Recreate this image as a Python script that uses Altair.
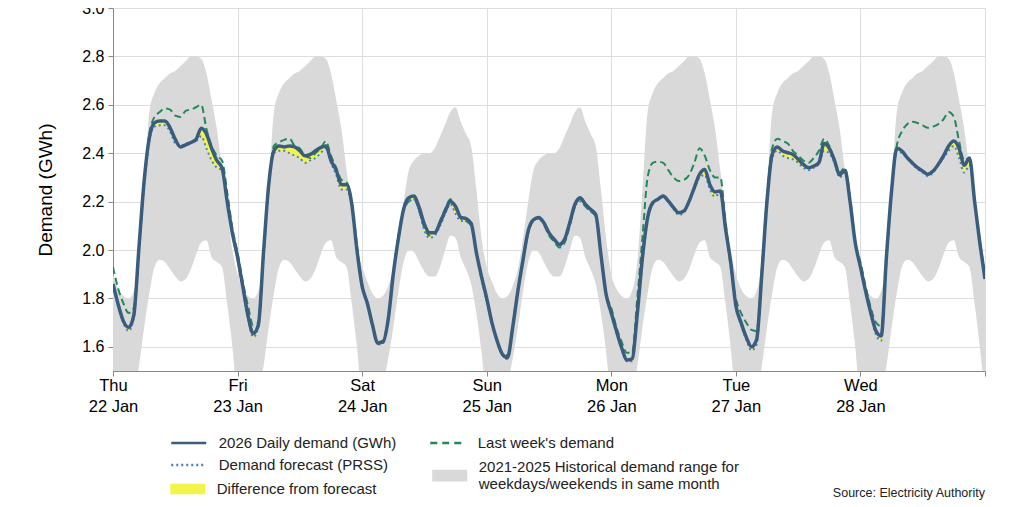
import json
import altair as alt
import pandas as pd

# ---------------- data ----------------
days = ["Thu", "Fri", "Sat", "Sun", "Mon", "Tue", "Wed"]
dates = ["22 Jan", "23 Jan", "24 Jan", "25 Jan", "26 Jan", "27 Jan", "28 Jan"]
day_type = ["weekday", "weekday", "weekend", "weekend", "weekday", "weekday", "weekday"]

# hourly 2026 demand (GWh), Thu 00:00 ... Wed 23:00, plus Thu 29 00:00
demand = [
    1.86, 1.775, 1.706, 1.68, 1.73, 2.01, 2.285, 2.464, 2.526, 2.533, 2.533, 2.505, 2.457, 2.426, 2.434, 2.444, 2.457, 2.503, 2.48, 2.42, 2.37, 2.34, 2.20, 2.07,
    1.97, 1.85, 1.73, 1.655, 1.69, 1.99, 2.27, 2.41, 2.43, 2.426, 2.43, 2.426, 2.41, 2.389, 2.395, 2.41, 2.423, 2.43, 2.37, 2.33, 2.27, 2.27, 2.19, 2.00,
    1.85, 1.78, 1.69, 1.615, 1.62, 1.71, 1.90, 2.05, 2.17, 2.216, 2.223, 2.175, 2.106, 2.071, 2.071, 2.113, 2.161, 2.20, 2.18, 2.135, 2.13, 2.11, 1.99, 1.89,
    1.80, 1.70, 1.625, 1.57, 1.555, 1.68, 1.83, 1.96, 2.08, 2.125, 2.134, 2.113, 2.071, 2.044, 2.023, 2.044, 2.113, 2.189, 2.216, 2.189, 2.168, 2.147, 1.982, 1.817,
    1.74, 1.665, 1.596, 1.545, 1.55, 1.734, 1.968, 2.134, 2.196, 2.21, 2.223, 2.202, 2.175, 2.154, 2.161, 2.202, 2.258, 2.313, 2.333, 2.27, 2.24, 2.244, 2.09, 1.95,
    1.77, 1.70, 1.64, 1.60, 1.63, 1.90, 2.202, 2.395, 2.426, 2.409, 2.402, 2.395, 2.375, 2.354, 2.34, 2.347, 2.361, 2.44, 2.42, 2.37, 2.31, 2.33, 2.20, 2.03,
    1.93, 1.83, 1.74, 1.665, 1.645, 1.968, 2.244, 2.42, 2.409, 2.382, 2.36, 2.34, 2.326, 2.313, 2.326, 2.354, 2.389, 2.43, 2.45, 2.42, 2.35, 2.38, 2.20, 2.03,
    1.88,
]

forecast = [
    1.85, 1.77, 1.70, 1.665, 1.72, 2.00, 2.27, 2.45, 2.51, 2.515, 2.515, 2.49, 2.44, 2.43, 2.44, 2.445, 2.45, 2.47, 2.42, 2.37, 2.34, 2.33, 2.20, 2.07,
    1.96, 1.84, 1.72, 1.64, 1.68, 1.98, 2.26, 2.40, 2.41, 2.41, 2.40, 2.39, 2.38, 2.36, 2.37, 2.38, 2.40, 2.42, 2.36, 2.31, 2.25, 2.25, 2.18, 2.00,
    1.85, 1.78, 1.69, 1.61, 1.615, 1.71, 1.90, 2.05, 2.16, 2.20, 2.21, 2.16, 2.08, 2.05, 2.06, 2.10, 2.15, 2.19, 2.15, 2.12, 2.12, 2.10, 1.99, 1.89,
    1.80, 1.70, 1.62, 1.565, 1.55, 1.68, 1.83, 1.96, 2.08, 2.12, 2.13, 2.11, 2.07, 2.04, 2.015, 2.04, 2.11, 2.18, 2.20, 2.18, 2.16, 2.14, 1.98, 1.815,
    1.74, 1.66, 1.59, 1.54, 1.54, 1.73, 1.96, 2.13, 2.19, 2.21, 2.22, 2.20, 2.17, 2.145, 2.155, 2.20, 2.25, 2.30, 2.31, 2.25, 2.22, 2.24, 2.09, 1.95,
    1.77, 1.69, 1.63, 1.585, 1.61, 1.89, 2.20, 2.38, 2.41, 2.39, 2.38, 2.375, 2.36, 2.34, 2.33, 2.34, 2.355, 2.41, 2.40, 2.36, 2.30, 2.32, 2.20, 2.03,
    1.93, 1.83, 1.73, 1.65, 1.625, 1.96, 2.24, 2.41, 2.40, 2.38, 2.355, 2.335, 2.32, 2.305, 2.32, 2.35, 2.38, 2.41, 2.43, 2.38, 2.32, 2.35, 2.20, 2.03,
    1.88,
]

last_week = [
    1.93, 1.84, 1.78, 1.74, 1.76, 2.00, 2.28, 2.48, 2.55, 2.57, 2.585, 2.58, 2.555, 2.55, 2.575, 2.58, 2.59, 2.60, 2.50, 2.43, 2.39, 2.37, 2.24, 2.09,
    1.99, 1.87, 1.77, 1.69, 1.70, 1.98, 2.25, 2.43, 2.445, 2.455, 2.46, 2.43, 2.42, 2.39, 2.38, 2.40, 2.42, 2.45, 2.39, 2.34, 2.29, 2.28, 2.20, 2.02,
    1.86, 1.78, 1.69, 1.62, 1.625, 1.72, 1.91, 2.06, 2.17, 2.20, 2.21, 2.16, 2.09, 2.06, 2.07, 2.12, 2.17, 2.21, 2.18, 2.13, 2.12, 2.10, 1.99, 1.88,
    1.79, 1.70, 1.63, 1.575, 1.565, 1.69, 1.84, 1.96, 2.07, 2.12, 2.13, 2.105, 2.06, 2.035, 2.01, 2.03, 2.10, 2.18, 2.21, 2.18, 2.16, 2.14, 1.98, 1.82,
    1.76, 1.68, 1.62, 1.575, 1.575, 1.80, 2.05, 2.30, 2.36, 2.365, 2.36, 2.33, 2.30, 2.285, 2.29, 2.31, 2.36, 2.42, 2.39, 2.33, 2.30, 2.30, 2.12, 1.93,
    1.80, 1.74, 1.70, 1.67, 1.665, 1.92, 2.22, 2.42, 2.46, 2.45, 2.44, 2.41, 2.39, 2.37, 2.36, 2.38, 2.41, 2.46, 2.43, 2.37, 2.32, 2.34, 2.22, 2.03,
    1.95, 1.85, 1.76, 1.70, 1.685, 1.95, 2.24, 2.43, 2.49, 2.52, 2.53, 2.525, 2.515, 2.505, 2.51, 2.52, 2.54, 2.57, 2.55, 2.45, 2.37, 2.38, 2.20, 2.04,
    1.90,
]

# 2021-2025 historical range, hourly profile (00:00 ... 23:00)
hist_low = {
    "weekday": [1.40, 1.40, 1.40, 1.40, 1.42, 1.52, 1.68, 1.82, 1.93, 1.96, 1.95, 1.92, 1.89, 1.87, 1.88, 1.92, 1.98, 2.03, 2.04, 1.97, 1.95, 1.93, 1.78, 1.60],
    "weekend": [1.40, 1.40, 1.40, 1.40, 1.45, 1.55, 1.68, 1.83, 1.95, 2.00, 1.99, 1.95, 1.91, 1.89, 1.89, 1.93, 2.00, 2.06, 2.05, 1.97, 1.92, 1.86, 1.74, 1.58],
}
hist_high = {
    "weekday": [1.90, 1.84, 1.81, 1.80, 1.83, 1.95, 2.25, 2.57, 2.65, 2.69, 2.71, 2.73, 2.74, 2.76, 2.78, 2.80, 2.80, 2.79, 2.73, 2.62, 2.50, 2.33, 2.16, 2.00],
    "weekend": [1.93, 1.87, 1.82, 1.80, 1.81, 1.85, 1.92, 2.05, 2.20, 2.33, 2.37, 2.39, 2.40, 2.40, 2.42, 2.47, 2.52, 2.57, 2.59, 2.53, 2.48, 2.43, 2.25, 2.05],
}

y_ticks = [1.6, 1.8, 2.0, 2.2, 2.4, 2.6, 2.8, 3.0]

L_DEMAND = "2026 Daily demand (GWh)"
L_LAST = "Last week's demand"
L_FC = "Demand forecast (PRSS)"
L_HIST = "2021-2025 Historical demand range for"
L_HIST2 = " weekdays/weekends in same month"
L_DIFF = "Difference from forecast"
SOURCE = "Source: Electricity Authority"
line_labels = [L_DEMAND, L_FC, L_LAST]

# ---------------- styles ----------------
C_DEMAND = "#3a5d7e"
C_LAST = "#23885a"
C_FC = "#4a7fc6"
C_HIST = "#d9d9d9"
C_DIFF = "#f3f34a"
FONT = "Liberation Sans"
SYM_SIZE = 306.25  # sqrt = 17.5 -> shapes below span 35 px
LINE_SYMBOL = "M-2,0L2,0"
RECT_SYMBOL = "M-2,-0.6L2,-0.6L2,0.6L-2,0.6Z"
RECT_SYMBOL_LOW = "M-2,0.3L2,0.3L2,1.67L-2,1.67Z"

lo, hi = [], []
for t in day_type:
    lo += hist_low[t]
    hi += hist_high[t]
lo.append(hist_low["weekday"][0])
hi.append(hist_high["weekday"][0])

df = pd.DataFrame({
    "hour": list(range(len(demand))),
    "demand": demand,
    "forecast": forecast,
    "last_week": last_week,
    "hist_lo": lo,
    "hist_hi": hi,
})
leg_df = pd.DataFrame({"f_line": line_labels,
                       "f_hist": [L_HIST] * 3, "f_diff": [L_DIFF] * 3})

n_hours = 24 * len(days)
x_ticks = list(range(0, n_hours + 1, 24))
label_expr = (
    f"datum.value < {n_hours} ? "
    f"[{json.dumps(days)}[round(datum.value / 24)], {json.dumps(dates)}[round(datum.value / 24)]] : ''"
)

xscale = alt.Scale(domain=[0, n_hours], nice=False, zero=False)
xaxis = alt.Axis(values=x_ticks, labelExpr=label_expr, title=None, labelFontSize=16.5,
                 labelLineHeight=21, labelPadding=1, tickSize=5, labelFlush=False)
yscale = alt.Scale(domain=[1.5, 3.0], nice=False, zero=False)
yaxis = alt.Axis(values=y_ticks, format=".1f", title="Demand (GWh)", labelFontSize=16,
                 titleFontSize=19, titleFontWeight="normal", titlePadding=26, tickSize=5,
                 labelPadding=4)


def X():
    return alt.X("hour:Q", scale=xscale, axis=xaxis)


def Y(field):
    return alt.Y(field, scale=yscale, axis=yaxis)


base = alt.Chart(df)
interp = "monotone"

band = base.mark_area(color=C_HIST, clip=True, interpolate=interp).encode(x=X(), y=Y("hist_lo:Q"), y2="hist_hi:Q")
diff = base.mark_area(color=C_DIFF, clip=True, interpolate=interp).encode(x=X(), y=Y("demand:Q"), y2="forecast:Q")
last = base.mark_line(color=C_LAST, strokeWidth=2, strokeDash=[7, 4], clip=True, interpolate=interp).encode(x=X(), y=Y("last_week:Q"))
fc = base.mark_line(color=C_FC, strokeWidth=2, strokeDash=[2, 3], clip=True, interpolate=interp).encode(x=X(), y=Y("forecast:Q"))
dem = base.mark_line(color=C_DEMAND, strokeWidth=3.5, clip=True, interpolate=interp).encode(x=X(), y=Y("demand:Q"))


def leg_props(x, y, **kw):
    return alt.Legend(title=None, orient="none", legendX=x, legendY=y, symbolSize=SYM_SIZE,
                      labelFontSize=15, labelFont=FONT, labelColor="#222", labelLimit=420,
                      labelOffset=20, symbolOpacity=1, **kw)


line_legend = leg_props(65.75, 425, columns=2, columnPadding=28, rowPadding=4,
                        symbolType=LINE_SYMBOL, symbolStrokeWidth=2.5, values=line_labels)

lbase = alt.Chart(leg_df).transform_filter("false")
leg_lines = lbase.mark_line().encode(
    stroke=alt.Stroke("f_line:N", scale=alt.Scale(domain=line_labels, range=[C_DEMAND, C_FC, C_LAST]),
                      legend=line_legend),
    strokeDash=alt.StrokeDash("f_line:N", scale=alt.Scale(domain=line_labels, range=[[1, 0], [2, 3], [7, 5]]),
                              legend=line_legend),
)
leg_hist = lbase.mark_rect().encode(
    color=alt.Color("f_hist:N", scale=alt.Scale(domain=[L_HIST], range=[C_HIST]),
                    legend=leg_props(327.75, 450, symbolType=RECT_SYMBOL_LOW, symbolStrokeWidth=0,
                                     labelExpr=json.dumps([L_HIST, L_HIST2]))))
leg_diff = lbase.mark_rect().encode(
    fill=alt.Fill("f_diff:N", scale=alt.Scale(domain=[L_DIFF], range=[C_DIFF]),
                  legend=leg_props(65.75, 472, symbolType=RECT_SYMBOL, symbolStrokeWidth=0)))

chart = alt.layer(band, diff, last, fc, dem, leg_lines, leg_hist, leg_diff).properties(
    width=872,
    height=363,
    padding={"left": 105, "top": 0, "right": 16, "bottom": 130},
    autosize=alt.AutoSizeParams(type="none"),
    title=alt.Title(SOURCE, orient="bottom", anchor="end", frame="group",
                    fontSize=12.5, fontWeight="normal", font=FONT, color="#222", offset=-10),
).configure_view(stroke="#777", strokeWidth=1).configure_axis(
    labelFont=FONT, titleFont=FONT, labelColor="#222", titleColor="#222",
    gridColor="#bcbcbc", gridWidth=1, domainColor="#222", domainWidth=1.5,
    tickColor="#222", tickWidth=1.2,
).configure(background="white")

chart.save("out.html", embed_options={"renderer": "svg", "actions": False})
